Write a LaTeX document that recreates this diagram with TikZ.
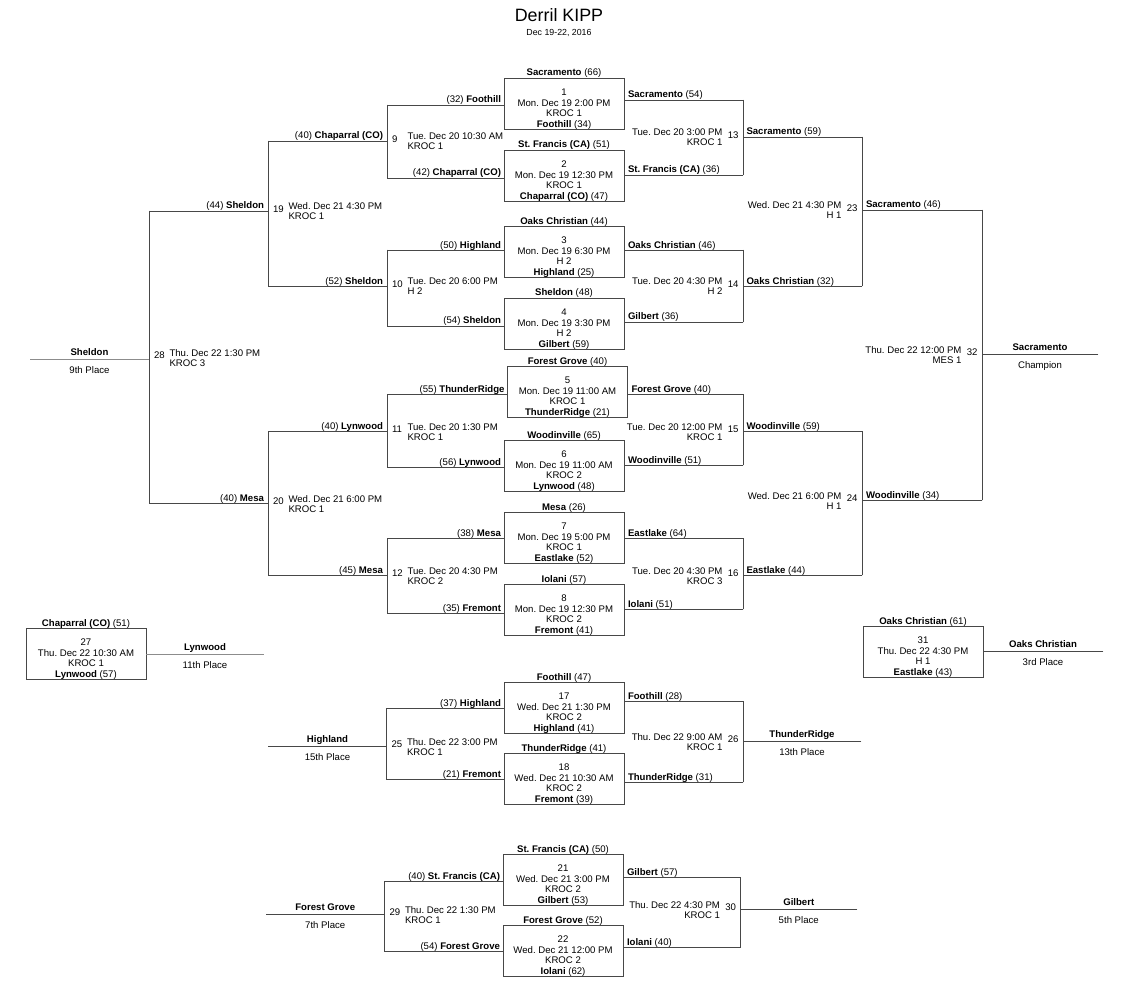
\documentclass[tikz,border=0pt]{standalone}
\usepackage{fontspec}
\setmainfont{Liberation Sans}
\usetikzlibrary{calc}
\frenchspacing
\newcommand\BKfs{\fontsize{7.2}{8}\selectfont\frenchspacing}
\newcommand\BKtr[2]{\textbf{#1} (#2)}
\newcommand\BKtl[2]{(#1) \textbf{#2}}
% game box: name, left, top, top team, number, date, venue, bottom team
\newcommand\BKbox[8]{%
  \node[gb,anchor=north west] (#1) at (#2,#3) {};
  \node[tx,anchor=base] (#1top) at ($(#1.north)+(0,-2)$) {#4};
  \node[tx,anchor=base] (#1n) at ($(#1.north)+(0,17.5)$) {#5};
  \node[tx,anchor=base] (#1d) at ($(#1.north)+(0,28.5)$) {#6};
  \node[tx,anchor=base] (#1v) at ($(#1.north)+(0,38.5)$) {#7};
  \node[tx,anchor=base] (#1bot) at ($(#1.south)+(0,-1.5)$) {#8};
}
% left-side game: name, x, ytop, ybottom, yout, xend, number, date, venue
\newcommand\BKleft[9]{%
  \coordinate (#1t) at (#2,#3);
  \coordinate (#1b) at (#2,#4);
  \coordinate (#1o) at (#2,#5);
  \coordinate (#1e) at (#6,#5);
  \draw[ln] (#1t) -- (#1b);
  \draw[ln] (#1o) -- (#1e);
  \node[tx,anchor=base west] (#1n) at ($(#1o)+(5,1.5)$) {#7};
  \node[tx,anchor=base west] (#1d) at ($(#1o)+(20.5,-1)$) {#8};
  \node[tx,anchor=base west] (#1v) at ($(#1o)+(20.5,9)$) {#9};
}
\newcommand\BKright[9]{%
  \coordinate (#1t) at (#2,#3);
  \coordinate (#1b) at (#2,#4);
  \coordinate (#1o) at (#2,#5);
  \coordinate (#1e) at (#6,#5);
  \draw[ln] (#1t) -- (#1b);
  \draw[ln] (#1o) -- (#1e);
  \node[tx,anchor=base east] (#1n) at ($(#1o)+(-4.5,1.5)$) {#7};
  \node[tx,anchor=base east] (#1d) at ($(#1o)+(-20.5,-1)$) {#8};
  \node[tx,anchor=base east] (#1v) at ($(#1o)+(-20.5,9)$) {#9};
}
% input line from a vertical to a box: coordinate, box, label name, label text
\newcommand\BKinL[4]{%
  \draw[ln] (#1) -- (#1 -| #2.west);
  \node[tx,anchor=base east] (#3) at ($(#1 -| #2.west)+(-3,-2)$) {#4};
}
\newcommand\BKinR[4]{%
  \draw[ln] (#2.east |- #1) -- (#1);
  \node[tx,anchor=base west] (#3) at ($(#2.east |- #1)+(4,-2)$) {#4};
}
\newcommand\BKplace[5]{%
  \node[tx,anchor=base] (#1a) at ($(#2)!0.5!(#3)+(0,-3.5)$) {\textbf{#4}};
  \node[tx,anchor=base] (#1b) at ($(#2)!0.5!(#3)+(0,14)$) {#5};
}
\begin{document}
\begin{tikzpicture}[x=0.75pt,y=-0.75pt,
  ln/.style={draw=black!72,line width=0.65pt,line cap=rect},
  lt/.style={draw=black!45,line width=0.65pt},
  tx/.style={inner sep=0pt,outer sep=0pt,font=\BKfs,text=black},
  gb/.style={draw=black!72,line width=0.65pt,minimum width=90pt,minimum height=38.25pt,inner sep=0pt,outer sep=0pt}]
\fill[white] (0,0) rectangle (1136,988);
\useasboundingbox (0,0) rectangle (1136,988);

\node[inner sep=0pt,anchor=base] (title) at (559,21.4) {\fontsize{13.4}{16}\selectfont Derril KIPP};
\node[inner sep=0pt,anchor=base] (subtitle) at (559,35.9) {\fontsize{6.6}{8}\selectfont Dec 19-22, 2016};

% ---------- first round boxes ----------
\BKbox{b1}{504}{78}{\BKtr{Sacramento}{66}}{1}{Mon. Dec 19 2:00 PM}{KROC 1}{\BKtr{Foothill}{34}}
\BKbox{b2}{504}{150}{\BKtr{St. Francis (CA)}{51}}{2}{Mon. Dec 19 12:30 PM}{KROC 1}{\BKtr{Chaparral (CO)}{47}}
\BKbox{b3}{504}{226}{\BKtr{Oaks Christian}{44}}{3}{Mon. Dec 19 6:30 PM}{H 2}{\BKtr{Highland}{25}}
\BKbox{b4}{504}{298}{\BKtr{Sheldon}{48}}{4}{Mon. Dec 19 3:30 PM}{H 2}{\BKtr{Gilbert}{59}}
\BKbox{b5}{507.5}{366}{\BKtr{Forest Grove}{40}}{5}{Mon. Dec 19 11:00 AM}{KROC 1}{\BKtr{ThunderRidge}{21}}
\BKbox{b6}{504}{440}{\BKtr{Woodinville}{65}}{6}{Mon. Dec 19 11:00 AM}{KROC 2}{\BKtr{Lynwood}{48}}
\BKbox{b7}{504}{512}{\BKtr{Mesa}{26}}{7}{Mon. Dec 19 5:00 PM}{KROC 1}{\BKtr{Eastlake}{52}}
\BKbox{b8}{504}{584}{\BKtr{Iolani}{57}}{8}{Mon. Dec 19 12:30 PM}{KROC 2}{\BKtr{Fremont}{41}}

% ---------- left (consolation) side ----------
\BKleft{g9}{387}{105}{178}{141}{268}{9}{Tue. Dec 20 10:30 AM}{KROC 1}
\BKleft{g10}{387}{250}{326}{286}{268}{10}{Tue. Dec 20 6:00 PM}{H 2}
\BKleft{g11}{387}{394}{467}{431}{268}{11}{Tue. Dec 20 1:30 PM}{KROC 1}
\BKleft{g12}{387}{538}{613}{575}{268}{12}{Tue. Dec 20 4:30 PM}{KROC 2}
\BKleft{g19}{268}{141}{286}{211}{149}{19}{Wed. Dec 21 4:30 PM}{KROC 1}
\BKleft{g20}{268}{431}{575}{503}{149}{20}{Wed. Dec 21 6:00 PM}{KROC 1}
\coordinate (g28t) at (149,211);
\coordinate (g28b) at (149,503);
\coordinate (g28o) at (149,359);
\coordinate (g28e) at (30,359);
\draw[ln] (g28t) -- (g28b);
\draw[lt] (g28o) -- (g28e);
\node[tx,anchor=base west] (g28n) at ($(g28o)+(5,-0.5)$) {28};
\node[tx,anchor=base west] (g28d) at ($(g28o)+(20.5,-3)$) {Thu. Dec 22 1:30 PM};
\node[tx,anchor=base west] (g28v) at ($(g28o)+(20.5,7)$) {KROC 3};

\BKinL{g9t}{b1}{l9t}{\BKtl{32}{Foothill}}
\BKinL{g9b}{b2}{l9b}{\BKtl{42}{Chaparral (CO)}}
\BKinL{g10t}{b3}{l10t}{\BKtl{50}{Highland}}
\BKinL{g10b}{b4}{l10b}{\BKtl{54}{Sheldon}}
\BKinL{g11t}{b5}{l11t}{\BKtl{55}{ThunderRidge}}
\BKinL{g11b}{b6}{l11b}{\BKtl{56}{Lynwood}}
\BKinL{g12t}{b7}{l12t}{\BKtl{38}{Mesa}}
\BKinL{g12b}{b8}{l12b}{\BKtl{35}{Fremont}}

\node[tx,anchor=base east] (o9l) at ($(g9o)+(-4,-2)$) {\BKtl{40}{Chaparral (CO)}};
\node[tx,anchor=base east] (o10l) at ($(g10o)+(-4,-2)$) {\BKtl{52}{Sheldon}};
\node[tx,anchor=base east] (o11l) at ($(g11o)+(-4,-2)$) {\BKtl{40}{Lynwood}};
\node[tx,anchor=base east] (o12l) at ($(g12o)+(-4,-2)$) {\BKtl{45}{Mesa}};
\node[tx,anchor=base east] (o19l) at ($(g19o)+(-4,-2)$) {\BKtl{44}{Sheldon}};
\node[tx,anchor=base east] (o20l) at ($(g20o)+(-4,-2)$) {\BKtl{40}{Mesa}};
\BKplace{pl28}{g28o}{g28e}{Sheldon}{9th Place}

% ---------- right (championship) side ----------
\BKright{g13}{743}{100}{175}{137}{862}{13}{Tue. Dec 20 3:00 PM}{KROC 1}
\BKright{g14}{743}{250}{322}{286}{862}{14}{Tue. Dec 20 4:30 PM}{H 2}
\BKright{g15}{743}{394}{465}{431}{862}{15}{Tue. Dec 20 12:00 PM}{KROC 1}
\BKright{g16}{743}{538}{609}{575}{862}{16}{Tue. Dec 20 4:30 PM}{KROC 3}
\BKright{g23}{862}{137}{286}{210}{982}{23}{Wed. Dec 21 4:30 PM}{H 1}
\BKright{g24}{862}{431}{575}{500}{982}{24}{Wed. Dec 21 6:00 PM}{H 1}
\BKright{g32}{982}{210}{500}{354}{1098}{32}{Thu. Dec 22 12:00 PM}{MES 1}

\BKinR{g13t}{b1}{r13t}{\BKtr{Sacramento}{54}}
\BKinR{g13b}{b2}{r13b}{\BKtr{St. Francis (CA)}{36}}
\BKinR{g14t}{b3}{r14t}{\BKtr{Oaks Christian}{46}}
\BKinR{g14b}{b4}{r14b}{\BKtr{Gilbert}{36}}
\BKinR{g15t}{b5}{r15t}{\BKtr{Forest Grove}{40}}
\BKinR{g15b}{b6}{r15b}{\BKtr{Woodinville}{51}}
\BKinR{g16t}{b7}{r16t}{\BKtr{Eastlake}{64}}
\BKinR{g16b}{b8}{r16b}{\BKtr{Iolani}{51}}

\node[tx,anchor=base west] (o13l) at ($(g13o)+(3.5,-2)$) {\BKtr{Sacramento}{59}};
\node[tx,anchor=base west] (o14l) at ($(g14o)+(3.5,-2)$) {\BKtr{Oaks Christian}{32}};
\node[tx,anchor=base west] (o15l) at ($(g15o)+(3.5,-2)$) {\BKtr{Woodinville}{59}};
\node[tx,anchor=base west] (o16l) at ($(g16o)+(3.5,-2)$) {\BKtr{Eastlake}{44}};
\node[tx,anchor=base west] (o23l) at ($(g23o)+(4,-2)$) {\BKtr{Sacramento}{46}};
\node[tx,anchor=base west] (o24l) at ($(g24o)+(4,-2)$) {\BKtr{Woodinville}{34}};
\BKplace{pl32}{g32o}{g32e}{Sacramento}{Champion}

% ---------- single games 27 and 31 ----------
\BKbox{b27}{26}{628}{\BKtr{Chaparral (CO)}{51}}{27}{Thu. Dec 22 10:30 AM}{KROC 1}{\BKtr{Lynwood}{57}}
\coordinate (o27e) at (264,654);
\coordinate (o27s) at (b27.east |- o27e);
\draw[lt] (o27s) -- (o27e);
\BKplace{pl27}{o27s}{o27e}{Lynwood}{11th Place}

\BKbox{b31}{863}{626}{\BKtr{Oaks Christian}{61}}{31}{Thu. Dec 22 4:30 PM}{H 1}{\BKtr{Eastlake}{43}}
\coordinate (o31e) at (1103,651);
\coordinate (o31s) at (b31.east |- o31e);
\draw[ln] (o31s) -- (o31e);
\BKplace{pl31}{o31s}{o31e}{Oaks Christian}{3rd Place}

% ---------- 13th-16th bracket ----------
\BKbox{b17}{504}{682}{\BKtr{Foothill}{47}}{17}{Wed. Dec 21 1:30 PM}{KROC 2}{\BKtr{Highland}{41}}
\BKbox{b18}{504}{753}{\BKtr{ThunderRidge}{41}}{18}{Wed. Dec 21 10:30 AM}{KROC 2}{\BKtr{Fremont}{39}}
\BKleft{g25}{386.5}{708}{779}{746}{268.5}{25}{Thu. Dec 22 3:00 PM}{KROC 1}
\BKright{g26}{743}{701}{782}{741}{861}{26}{Thu. Dec 22 9:00 AM}{KROC 1}
\BKinL{g25t}{b17}{l25t}{\BKtl{37}{Highland}}
\BKinL{g25b}{b18}{l25b}{\BKtl{21}{Fremont}}
\BKinR{g26t}{b17}{r26t}{\BKtr{Foothill}{28}}
\BKinR{g26b}{b18}{r26b}{\BKtr{ThunderRidge}{31}}
\BKplace{pl25}{g25e}{g25o}{Highland}{15th Place}
\BKplace{pl26}{g26o}{g26e}{ThunderRidge}{13th Place}

% ---------- 5th-8th bracket ----------
\BKbox{b21}{503}{854}{\BKtr{St. Francis (CA)}{50}}{21}{Wed. Dec 21 3:00 PM}{KROC 2}{\BKtr{Gilbert}{53}}
\BKbox{b22}{503}{925}{\BKtr{Forest Grove}{52}}{22}{Wed. Dec 21 12:00 PM}{KROC 2}{\BKtr{Iolani}{62}}
\BKleft{g29}{384.5}{881}{951}{914}{266}{29}{Thu. Dec 22 1:30 PM}{KROC 1}
\BKright{g30}{740.5}{877}{947}{909}{857}{30}{Thu. Dec 22 4:30 PM}{KROC 1}
\BKinL{g29t}{b21}{l29t}{\BKtl{40}{St. Francis (CA)}}
\BKinL{g29b}{b22}{l29b}{\BKtl{54}{Forest Grove}}
\BKinR{g30t}{b21}{r30t}{\BKtr{Gilbert}{57}}
\BKinR{g30b}{b22}{r30b}{\BKtr{Iolani}{40}}
\BKplace{pl29}{g29e}{g29o}{Forest Grove}{7th Place}
\BKplace{pl30}{g30o}{g30e}{Gilbert}{5th Place}
\end{tikzpicture}
\end{document}
